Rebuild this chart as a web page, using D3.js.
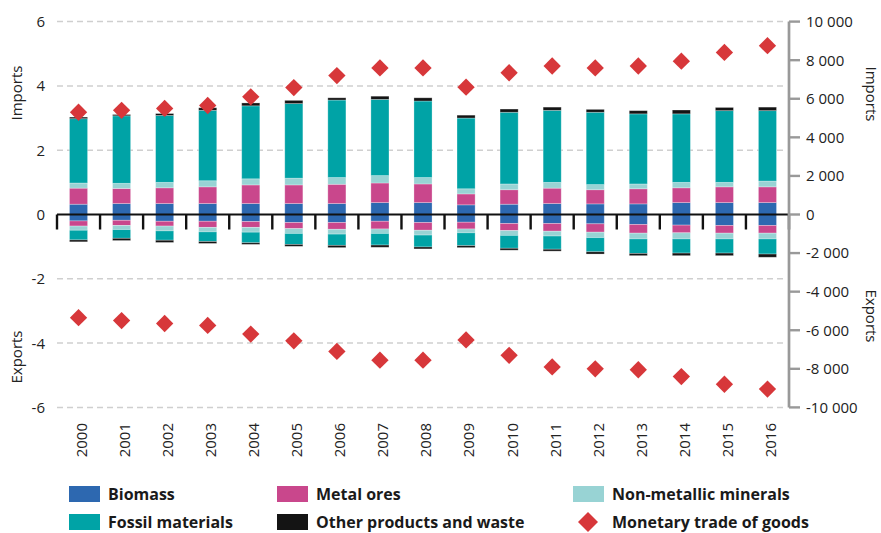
<!DOCTYPE html>
<html>
<head>
<meta charset="utf-8">
<script src="https://cdn.jsdelivr.net/npm/d3@7/dist/d3.min.js"></script>
<style>
  html, body { margin: 0; padding: 0; background: #fff; }
  svg { display: block; font-family: "Open Sans", "DejaVu Sans", sans-serif; }
</style>
</head>
<body>
<svg id="chart" width="881" height="533"></svg>
<script>
// Years on the horizontal axis
const years = ["2000","2001","2002","2003","2004","2005","2006","2007","2008",
               "2009","2010","2011","2012","2013","2014","2015","2016"];

// Physical imports by material group (left axis)
const importsBiomass  = [0.32,0.34,0.34,0.34,0.34,0.34,0.34,0.37,0.37,0.30,0.32,0.34,0.33,0.33,0.37,0.37,0.37];
const importsMetal    = [0.50,0.47,0.49,0.52,0.58,0.58,0.60,0.61,0.58,0.34,0.45,0.48,0.44,0.47,0.46,0.49,0.49];
const importsNonMetal = [0.16,0.16,0.17,0.19,0.19,0.21,0.21,0.23,0.20,0.16,0.18,0.18,0.16,0.15,0.17,0.14,0.18];
const importsFossil   = [2.00,2.10,2.08,2.19,2.27,2.32,2.41,2.37,2.38,2.20,2.23,2.24,2.25,2.18,2.13,2.23,2.19];
const importsOther    = [0.05,0.04,0.06,0.08,0.09,0.10,0.07,0.10,0.10,0.09,0.10,0.10,0.09,0.10,0.12,0.10,0.11];

// Physical exports by material group (drawn below zero)
const exportsBiomass  = [0.20,0.18,0.21,0.21,0.22,0.25,0.25,0.21,0.25,0.24,0.28,0.28,0.29,0.31,0.33,0.34,0.34];
const exportsMetal    = [0.16,0.16,0.15,0.19,0.18,0.19,0.21,0.24,0.24,0.21,0.22,0.24,0.26,0.27,0.24,0.24,0.24];
const exportsNonMetal = [0.13,0.13,0.15,0.14,0.15,0.15,0.15,0.14,0.15,0.12,0.15,0.15,0.17,0.18,0.19,0.18,0.18];
const exportsFossil   = [0.30,0.27,0.29,0.30,0.33,0.34,0.35,0.36,0.37,0.40,0.40,0.41,0.44,0.45,0.44,0.44,0.47];
const exportsOther    = [0.06,0.07,0.07,0.06,0.05,0.06,0.07,0.07,0.06,0.06,0.06,0.06,0.07,0.07,0.08,0.08,0.10];

// Monetary trade of goods (right axis)
const monetaryImports = [5300,5400,5500,5650,6100,6580,7200,7600,7600,6600,7350,7700,7600,7700,7950,8400,8750];
const monetaryExports = [-5350,-5500,-5650,-5750,-6200,-6550,-7100,-7550,-7550,-6500,-7300,-7900,-8000,-8050,-8400,-8800,-9050];

// Axis ticks
const leftTicks  = [-6,-4,-2,0,2,4,6];
const rightTicks = [-10000,-8000,-6000,-4000,-2000,0,2000,4000,6000,8000,10000];

// Material groups in stacking order (outwards from zero)
const groups = ["Biomass","Metal ores","Non-metallic minerals","Fossil materials","Other products and waste"];
const groupColors = ["#2d68b0","#c9478c","#98d3d4","#00a3a6","#141414"];
const diamondColor = "#d7373a";

const svg = d3.select("#chart");

const x = d3.scaleBand().domain(years).range([57, 789]).paddingInner(0.58).paddingOuter(0.29);
const yL = d3.scaleLinear().domain([-6, 6]).range([407.4, 21.6]);
const yR = d3.scaleLinear().domain([-10000, 10000]).range([407.4, 21.6]);
const color = d3.scaleOrdinal().domain(groups).range(groupColors);

// Gridlines
svg.append("g").selectAll("line")
  .data(leftTicks.filter(d => d !== 0))
  .join("line")
  .attr("x1", 57).attr("x2", 787)
  .attr("y1", d => yL(d)).attr("y2", d => yL(d))
  .attr("stroke", "#cfcfcf").attr("stroke-width", 1.5)
  .attr("stroke-dasharray", "6,4");

// Left tick labels
svg.append("g").selectAll("text")
  .data(leftTicks)
  .join("text")
  .attr("x", 45).attr("y", d => yL(d))
  .attr("dy", "0.36em")
  .attr("text-anchor", "end")
  .attr("font-size", 15).attr("fill", "#222")
  .text(d => String(d));

// Build stacked rows
const importRows = years.map((yr, i) => ({
  year: yr,
  "Biomass": importsBiomass[i], "Metal ores": importsMetal[i],
  "Non-metallic minerals": importsNonMetal[i], "Fossil materials": importsFossil[i],
  "Other products and waste": importsOther[i]
}));
const exportRows = years.map((yr, i) => ({
  year: yr,
  "Biomass": exportsBiomass[i], "Metal ores": exportsMetal[i],
  "Non-metallic minerals": exportsNonMetal[i], "Fossil materials": exportsFossil[i],
  "Other products and waste": exportsOther[i]
}));
const stack = d3.stack().keys(groups);
const impSeries = stack(importRows);
const expSeries = stack(exportRows);

function drawStack(series, sign) {
  const g = svg.append("g");
  g.selectAll("g")
    .data(series)
    .join("g")
    .attr("fill", d => color(d.key))
    .selectAll("rect")
    .data(d => d)
    .join("rect")
    .attr("x", d => x(d.data.year))
    .attr("width", x.bandwidth())
    .attr("y", d => Math.min(yL(sign * d[0]), yL(sign * d[1])))
    .attr("height", d => Math.abs(yL(sign * d[1]) - yL(sign * d[0])))
    .attr("stroke", "#ffffff").attr("stroke-opacity", 0.35).attr("stroke-width", 0.8);
}
drawStack(impSeries, 1);
drawStack(expSeries, -1);

// Zero line and category ticks
svg.append("line")
  .attr("x1", 57).attr("x2", 789)
  .attr("y1", yL(0)).attr("y2", yL(0))
  .attr("stroke", "#111").attr("stroke-width", 2.2);

const edges = years.map(yr => x(yr) - x.step() * x.paddingInner() / 2);
edges.push(edges[edges.length - 1] + x.step());
svg.append("g").selectAll("line")
  .data(edges)
  .join("line")
  .attr("x1", d => d).attr("x2", d => d)
  .attr("y1", yL(0)).attr("y2", yL(0) + 15)
  .attr("stroke", "#111").attr("stroke-width", 2.4);

// Year labels
svg.append("g").selectAll("text")
  .data(years)
  .join("text")
  .attr("transform", d => `translate(${x(d) + x.bandwidth() / 2 + 3},423) rotate(-90)`)
  .attr("dy", "0.36em")
  .attr("text-anchor", "end")
  .attr("font-size", 15).attr("fill", "#222")
  .text(d => d);

// Right axis
const fmt = d3.formatLocale({ decimal: ".", thousands: " ", grouping: [3], currency: ["", ""], minus: "-" }).format(",");
svg.append("line")
  .attr("x1", 789).attr("x2", 789)
  .attr("y1", yR(10000)).attr("y2", yR(-10000))
  .attr("stroke", "#999").attr("stroke-width", 2.7);
const rt = svg.append("g").selectAll("g").data(rightTicks).join("g");
rt.append("line")
  .attr("x1", 789).attr("x2", 800)
  .attr("y1", d => yR(d)).attr("y2", d => yR(d))
  .attr("stroke", "#999").attr("stroke-width", 2.4);
rt.append("text")
  .attr("x", 806).attr("y", d => yR(d))
  .attr("dy", "0.36em")
  .attr("font-size", 15).attr("fill", "#222")
  .text(d => fmt(d));

// Monetary diamonds
const diamond = d3.symbol().type(d3.symbolSquare).size(150);
const monetary = years.flatMap((yr, i) => [
  { year: yr, v: monetaryImports[i] },
  { year: yr, v: monetaryExports[i] }
]);
svg.append("g").selectAll("path")
  .data(monetary)
  .join("path")
  .attr("d", diamond)
  .attr("transform", d => `translate(${x(d.year) + x.bandwidth() / 2},${yR(d.v)}) rotate(45)`)
  .attr("fill", diamondColor);

// Axis titles
function vLabel(txt, cx, cy, angle) {
  svg.append("text")
    .attr("transform", `translate(${cx},${cy}) rotate(${angle})`)
    .attr("text-anchor", "middle")
    .attr("dy", "0.36em")
    .attr("font-size", 15).attr("fill", "#222")
    .text(txt);
}
vLabel("Imports", 17, 93, -90);
vLabel("Exports", 17, 357, -90);
vLabel("Imports", 871, 94, 90);
vLabel("Exports", 871, 316, 90);

// Legend
const legendItems = [
  { name: "Biomass", x: 69, y: 494, type: "rect" },
  { name: "Metal ores", x: 277, y: 494, type: "rect" },
  { name: "Non-metallic minerals", x: 573, y: 494, type: "rect" },
  { name: "Fossil materials", x: 69, y: 522, type: "rect" },
  { name: "Other products and waste", x: 277, y: 522, type: "rect" },
  { name: "Monetary trade of goods", x: 573, y: 522, type: "diamond" }
];
const lg = svg.append("g").selectAll("g").data(legendItems).join("g");
lg.filter(d => d.type === "rect").append("rect")
  .attr("x", d => d.x).attr("y", d => d.y - 8)
  .attr("width", 31).attr("height", 16)
  .attr("fill", d => color(d.name));
lg.filter(d => d.type === "diamond").append("path")
  .attr("d", d3.symbol().type(d3.symbolSquare).size(200))
  .attr("transform", d => `translate(${d.x + 15},${d.y}) rotate(45)`)
  .attr("fill", diamondColor);
lg.append("text")
  .attr("x", d => d.x + 39).attr("y", d => d.y)
  .attr("dy", "0.36em")
  .attr("font-size", 16).attr("font-weight", "bold").attr("fill", "#1a1a1a")
  .text(d => d.name);
</script>
</body>
</html>
